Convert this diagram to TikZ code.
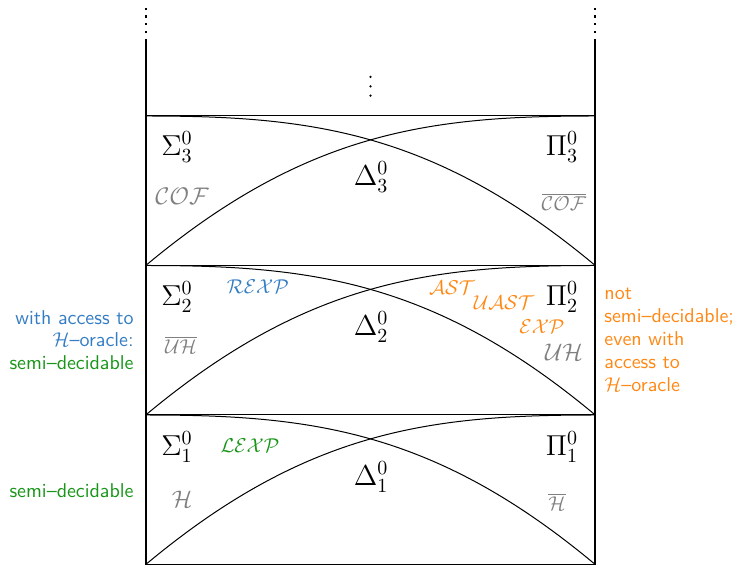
\documentclass[tikz,border=0pt]{standalone}
\usepackage{amsmath}
\definecolor{myblue}{RGB}{52,125,196}
\definecolor{myorange}{RGB}{255,136,20}
\definecolor{mygreen}{RGB}{25,150,25}
\definecolor{mygray}{RGB}{128,128,128}
\begin{document}
\begin{tikzpicture}[x=0.5pt,y=-0.5pt,
  lvl/.style={font=\Large, inner sep=0pt},
  cls/.style={font=\large, text=mygray, inner sep=0pt},
  clsn/.style={font=\normalsize, text=mygray, inner sep=0pt},
  prob/.style={font=\normalsize, inner sep=0pt},
  side/.style={font=\sffamily\fontsize{10}{11.4}\selectfont, inner sep=0pt},
  wall/.style={line width=1.1pt},
  band/.style={line width=0.5pt}]
\useasboundingbox (0,0) rectangle (738,565);
% walls
\coordinate (lt) at (146,39);
\coordinate (lb) at (146,565);
\coordinate (rt) at (595,39);
\coordinate (rb) at (595,565);
\draw[wall] (lt) -- (lb);
\draw[wall] (rt) -- (rb);
\foreach \y in {9.3,16.7,24,32.3}{
  \fill (145,\y-1.2) rectangle (147.4,\y+1.2);
  \fill (593.8,\y-1.2) rectangle (596.2,\y+1.2);
}
% middle vdots
\foreach \y in {77,86.3,95.7}{
  \fill (370.5,\y) circle (1.25);
}
% bands
\foreach \T in {116,265.5,415}{
  \draw[band] (146,\T) -- (595,\T);
  \draw[band] (146,{\T+149.3}) .. controls (308,{\T+14}) and (433,\T) .. (595,\T);
  \draw[band] (146,\T) .. controls (308,\T) and (433,{\T+14}) .. (595,{\T+149.3});
}
\draw[band] (146,564.3) -- (595,564.3);
% level labels
\node[lvl] (s3) at (177,147) {$\Sigma^0_3$};
\node[lvl] (p3) at (562,147) {$\Pi^0_3$};
\node[lvl] (d3) at (371,177) {$\Delta^0_3$};
\node[lvl] (s2) at (177,297) {$\Sigma^0_2$};
\node[lvl] (p2) at (562,297) {$\Pi^0_2$};
\node[lvl] (d2) at (371,327) {$\Delta^0_2$};
\node[lvl] (s1) at (177,447) {$\Sigma^0_1$};
\node[lvl] (p1) at (562,447) {$\Pi^0_1$};
\node[lvl] (d1) at (371,477) {$\Delta^0_1$};
% classes
\node[cls] (cof) at (182,196) {$\mathcal{COF}$};
\node[clsn] (cofc) at (564,202) {$\overline{\mathcal{COF}}$};
\node[clsn] (uhc) at (181,345) {$\overline{\mathcal{UH}}$};
\node[cls] (uh) at (564,352) {$\mathcal{UH}$};
\node[cls] (h) at (182,499) {$\mathcal{H}$};
\node[clsn] (hc) at (557,502) {$\overline{\mathcal{H}}$};
% problems
\node[prob, text=myblue] (rexp) at (258,287) {$\mathcal{REXP}$};
\node[prob, text=myorange] (ast) at (452,288) {$\mathcal{AST}$};
\node[prob, text=myorange] (uast) at (504,303) {$\mathcal{UAST}$};
\node[prob, text=myorange] (exp) at (542,327) {$\mathcal{EXP}$};
\node[prob, text=mygreen] (lexp) at (250,446) {$\mathcal{LEXP}$};
% side texts
\node[side, anchor=east, align=right] (left2) at (134,340)
  {\textcolor{myblue}{with access to}\\
   \textcolor{myblue}{$\mathcal{H}$--oracle:}\\
   \textcolor{mygreen}{semi--decidable}};
\node[side, anchor=east, text=mygreen] (left1) at (134,491) {semi--decidable};
\node[side, anchor=west, align=left, text=myorange] (right2) at (604,340)
  {not\\ semi--decidable;\\ even with\\ access to\\ $\mathcal{H}$--oracle};
\end{tikzpicture}
\end{document}
